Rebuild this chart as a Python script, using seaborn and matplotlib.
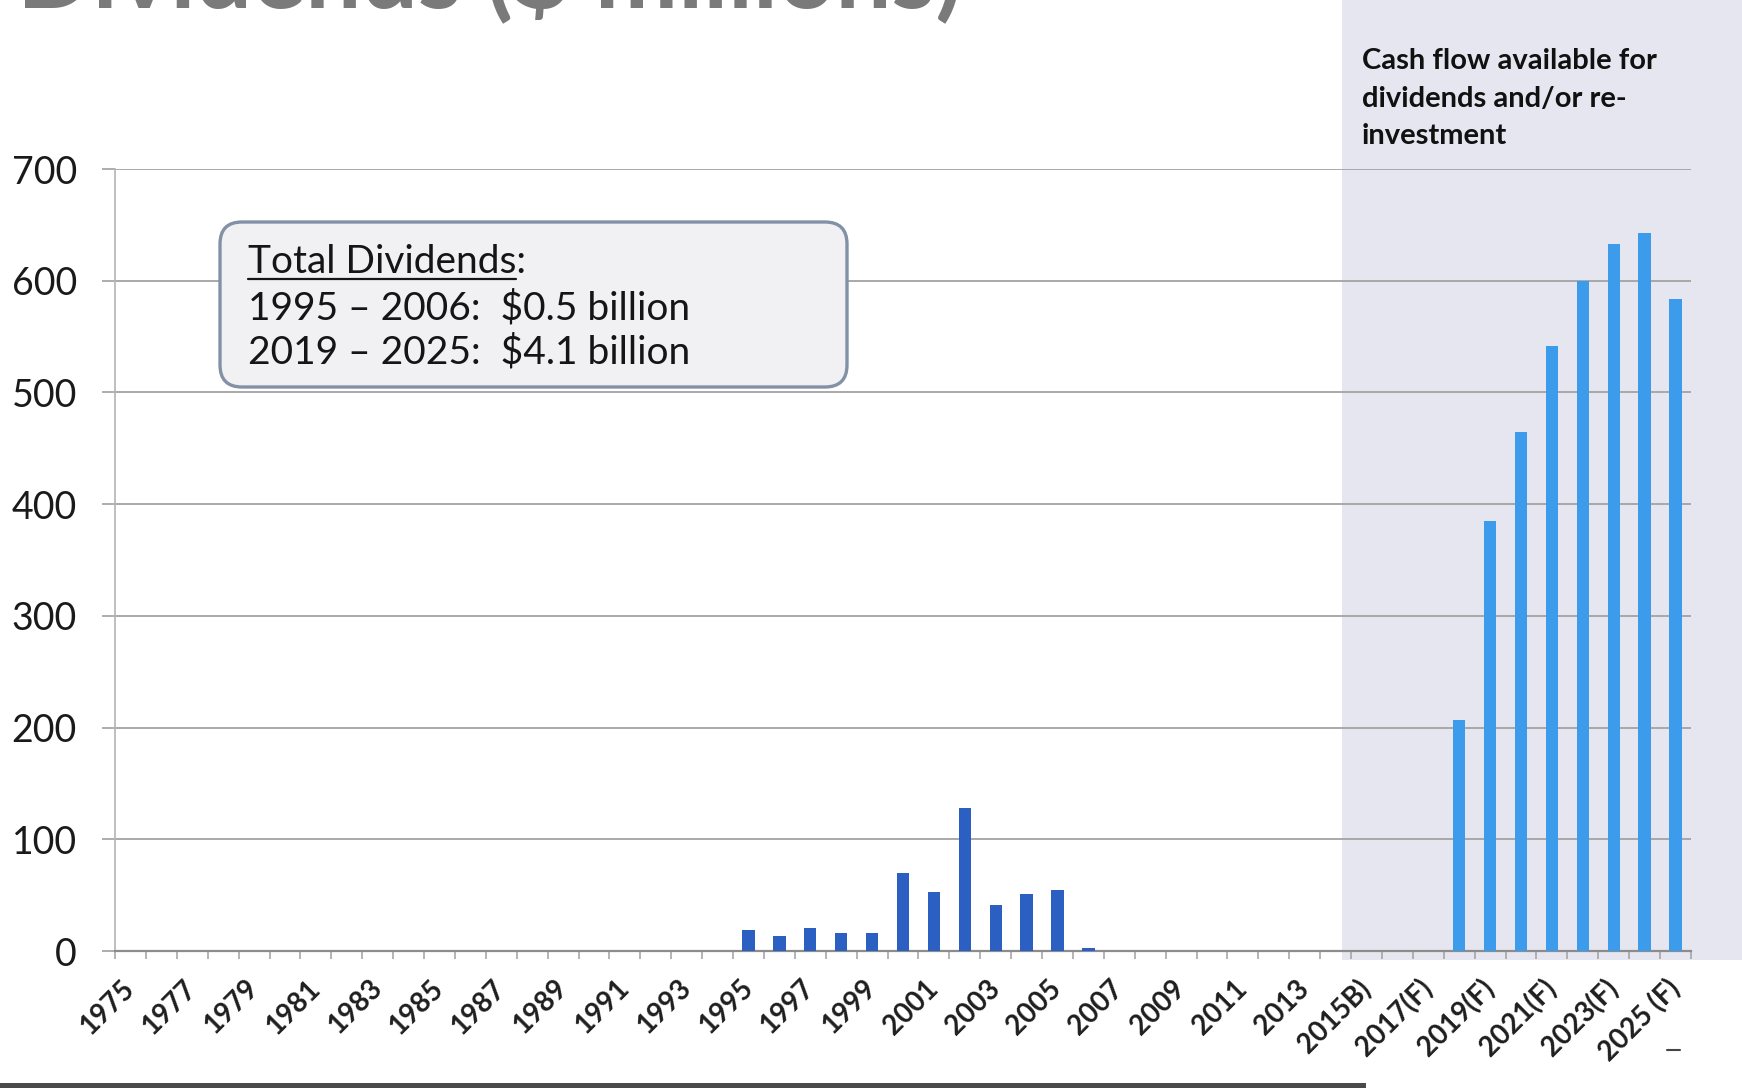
import matplotlib
matplotlib.use("Agg")
import matplotlib.pyplot as plt
import seaborn as sns
import numpy as np
import pandas as pd
from matplotlib.patches import Rectangle, FancyBboxPatch
from matplotlib.lines import Line2D

# ---------------- data ----------------
years = [str(y) for y in range(1975, 2026)]
hist_values = [0] * 20 + [18.7, 13, 21, 16, 16, 70, 53, 128, 41, 51, 55, 3] + [0] * 11
fcst_values = [207, 385, 465, 542, 600, 633, 643, 584]
values = hist_values + fcst_values
periods = ["Historical"] * len(hist_values) + ["Forecast"] * len(fcst_values)
tick_labels = [str(y) for y in range(1975, 2014, 2)] + [
    "2015B)", "2017(F)", "2019(F)", "2021(F)", "2023(F)", "2025 (F)"]
y_ticks = [0, 100, 200, 300, 400, 500, 600, 700]
title_text = "Dividends ($ millions)"
box_title = "Total Dividends"
box_lines = ["1995 \u2013 2006:  $0.5 billion", "2019 \u2013 2025:  $4.1 billion"]
side_note = ["Cash flow available for", "dividends and/or re-", "investment"]

df = pd.DataFrame({"year": years, "value": values, "period": periods})

# ---------------- figure ----------------
sns.set_theme(style="white")
plt.rcParams["font.family"] = ["Lato", "DejaVu Sans"]

W, H = 1742, 1088
fig = plt.figure(figsize=(W / 100, H / 100), dpi=100)
fig.patch.set_facecolor("white")

ax_l, ax_r, ax_b, ax_t = 115, 1691, 951, 169
ax = fig.add_axes([ax_l / W, (H - ax_b) / H, (ax_r - ax_l) / W, (ax_b - ax_t) / H])
ax.set_facecolor("none")

sns.barplot(data=df, x="year", y="value", hue="period",
            palette={"Historical": "#2c5fc2", "Forecast": "#3d9beb"},
            dodge=False, width=0.4, linewidth=0, saturation=1,
            legend=False, ax=ax, zorder=3)

ax.set_xlim(-0.5, len(years) - 0.5)
ax.set_ylim(0, 700)
ax.set_xlabel("")
ax.set_ylabel("")

# y axis
ax.set_yticks(y_ticks)
ax.set_yticklabels([str(v) for v in y_ticks], fontsize=27, color="#1a1a1a")
ax.tick_params(axis="y", which="major", length=9.4, width=1.2, color="#a0a0a0",
               pad=18, left=True)
ax.yaxis.grid(True, color="#a3a3a3", linewidth=1.3, zorder=1)
ax.set_axisbelow(True)

# x axis
ax.set_xticks(list(range(0, len(years), 2)))
ax.set_xticklabels(tick_labels, rotation=45, ha="right", va="center",
                   rotation_mode="anchor", fontsize=20, fontweight="bold",
                   color="#1e1e1e")
ax.tick_params(axis="x", which="major", length=0, pad=24, bottom=True)
ax.set_xticks(np.arange(-0.5, len(years), 1), minor=True)
ax.tick_params(axis="x", which="minor", length=6, width=1.1, color="#a0a0a0",
               bottom=True)

for s in ["top", "right"]:
    ax.spines[s].set_visible(False)
ax.spines["left"].set_color("#b4b4b4")
ax.spines["left"].set_linewidth(1.2)
ax.spines["bottom"].set_color("#8c8c8c")
ax.spines["bottom"].set_linewidth(1.6)

# shaded forecast region (figure level, behind axes)
x0_px = ax_l + (39.7 / len(years)) * (ax_r - ax_l)
shade = Rectangle((x0_px / W, (H - 960) / H), 1 - x0_px / W, 960 / H,
                  transform=fig.transFigure, facecolor="#e6e6f0",
                  edgecolor="none", zorder=-5)
fig.patches.append(shade)

# title (cut off at top)
t = fig.text(17 / W, 1 - 7 / H, title_text, fontsize=70, fontweight="bold",
             color="#7a7a7a", ha="left", va="baseline")
fig.canvas.draw()
wpx = t.get_window_extent().width
t.set_fontsize(70 * 946 / wpx)

# annotation box
box = FancyBboxPatch((220 / 100, (H - 387) / 100), 627 / 100, 165 / 100,
                     boxstyle="round,pad=0,rounding_size=0.22",
                     transform=fig.dpi_scale_trans, facecolor="#f1f1f4",
                     edgecolor="#8391a6", linewidth=2.4, zorder=5)
fig.patches.append(box)
bx = 248 / W
tmeas = fig.text(bx, 1 - 273 / H, box_title, fontsize=28, color="#151515",
                 ha="left", va="baseline", zorder=6)
fig.canvas.draw()
bb = tmeas.get_window_extent()
tmeas.remove()
fig.text(bx, 1 - 273 / H, box_title + ":", fontsize=28, color="#151515",
         ha="left", va="baseline", zorder=6)
fig.text(bx, 1 - 319 / H, box_lines[0], fontsize=28, color="#151515",
         ha="left", va="baseline", zorder=6)
fig.text(bx, 1 - 364 / H, box_lines[1], fontsize=28, color="#151515",
         ha="left", va="baseline", zorder=6)
fig.add_artist(Line2D([bb.x0 / W, bb.x1 / W], [(H - 279) / H, (H - 279) / H],
                      transform=fig.transFigure, color="#151515", linewidth=1.6,
                      zorder=7))

# side note
for line, base in zip(side_note, [69, 107, 144]):
    fig.text(1362 / W, 1 - base / H, line, fontsize=21, fontweight="bold",
             color="#111111", ha="left", va="baseline")

# small dash and bottom border line
fig.add_artist(Line2D([1667 / W, 1680 / W], [(H - 1050) / H, (H - 1050) / H],
                      transform=fig.transFigure, color="#444444", linewidth=1.5))
fig.patches.append(Rectangle((0, 0), 1366 / W, 5 / H, transform=fig.transFigure,
                             facecolor="#4a4a4a", edgecolor="none", zorder=10))

fig.savefig("out.png", dpi=100)
